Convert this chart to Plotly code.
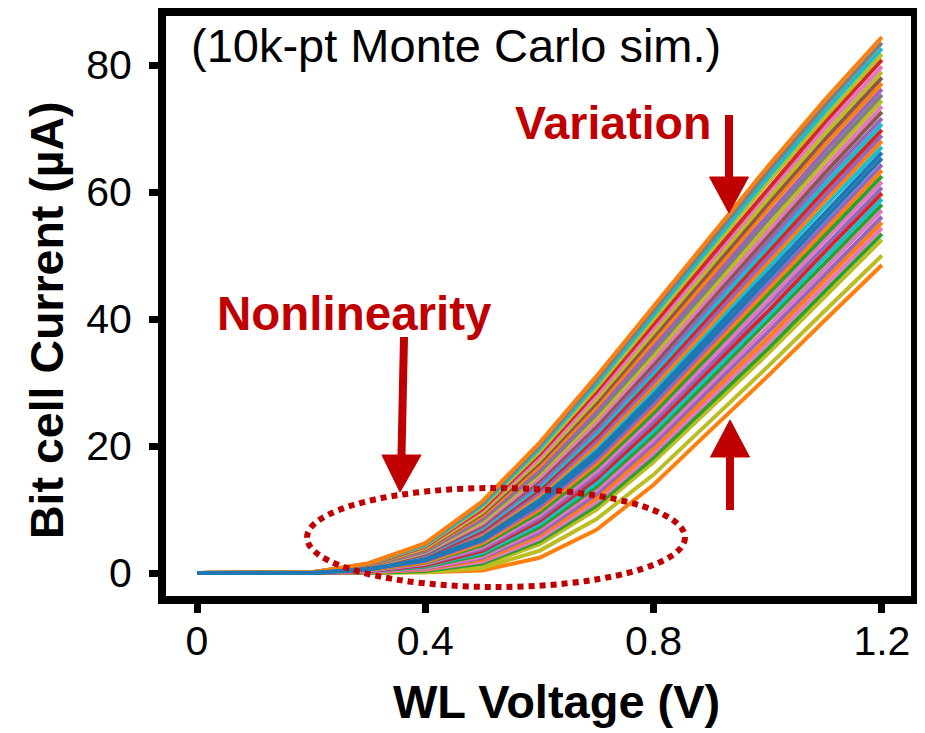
import plotly.graph_objects as go

# ---------------- data ----------------
wl_voltage = [0.0, 0.1, 0.2, 0.3, 0.4, 0.5, 0.6, 0.7, 0.8, 0.9, 1.0, 1.1, 1.2]

# Bit cell current (uA) of the displayed Monte Carlo samples, one row per sample
sample_currents = [
    [0, 0, 0.0, 0.0, 0.1, 0.4, 2.4, 6.8, 13.9, 22.5, 31.0, 39.8, 48.5],
    [0, 0, 0.0, 0.0, 0.1, 0.8, 3.5, 8.5, 15.5, 24.0, 32.5, 41.3, 50.0],
    [0, 0, 0.0, 0.0, 0.2, 1.2, 4.5, 10.0, 17.5, 26.0, 34.5, 43.5, 52.5],
    [0, 0, 0.0, 0.0, 0.3, 1.5, 5.0, 10.6, 18.2, 26.8, 35.3, 44.4, 53.4],
    [0, 0, 0.0, 0.1, 0.5, 1.8, 5.4, 11.2, 18.9, 27.5, 36.2, 45.3, 54.3],
    [0, 0, 0.0, 0.1, 0.6, 2.1, 5.9, 11.8, 19.6, 28.3, 37.0, 46.2, 55.2],
    [0, 0, 0.0, 0.2, 0.7, 2.4, 6.3, 12.4, 20.3, 29.1, 37.9, 47.0, 56.1],
    [0, 0, 0.0, 0.2, 0.8, 2.6, 6.8, 13.0, 21.0, 29.9, 38.7, 47.9, 57.1],
    [0, 0, 0.0, 0.3, 1.0, 2.9, 7.2, 13.6, 21.7, 30.6, 39.6, 48.8, 58.0],
    [0, 0, 0.0, 0.3, 1.1, 3.2, 7.7, 14.2, 22.4, 31.4, 40.4, 49.7, 58.9],
    [0, 0, 0.0, 0.3, 1.2, 3.5, 8.2, 14.8, 23.1, 32.2, 41.2, 50.6, 59.8],
    [0, 0, 0.0, 0.4, 1.4, 3.8, 8.6, 15.4, 23.8, 32.9, 42.1, 51.5, 60.7],
    [0, 0, 0.0, 0.4, 1.5, 4.1, 9.1, 16.0, 24.5, 33.7, 42.9, 52.4, 61.6],
    [0, 0, 0.0, 0.5, 1.6, 4.4, 9.5, 16.6, 25.2, 34.5, 43.8, 53.2, 62.5],
    [0, 0, 0.0, 0.5, 1.7, 4.7, 10.0, 17.2, 25.9, 35.3, 44.6, 54.1, 63.4],
    [0, 0, 0.0, 0.6, 1.9, 5.0, 10.4, 17.8, 26.6, 36.0, 45.5, 55.0, 64.3],
    [0, 0, 0.0, 0.7, 2.3, 5.8, 11.8, 19.6, 28.7, 38.3, 48.0, 57.7, 67.1],
    [0, 0, 0.0, 0.7, 2.4, 6.1, 12.3, 20.2, 29.4, 39.1, 48.8, 58.6, 68.0],
    [0, 0, 0.0, 0.8, 2.5, 6.4, 12.7, 20.8, 30.1, 39.9, 49.7, 59.4, 68.9],
    [0, 0, 0.0, 0.8, 2.6, 6.7, 13.2, 21.4, 30.8, 40.7, 50.5, 60.3, 69.8],
    [0, 0, 0.0, 0.9, 2.8, 7.0, 13.6, 22.0, 31.5, 41.4, 51.4, 61.2, 70.7],
    [0, 0, 0.0, 0.9, 2.9, 7.3, 14.1, 22.6, 32.2, 42.2, 52.2, 62.1, 71.6],
    [0, 0, 0.0, 0.9, 3.0, 7.5, 14.6, 23.2, 32.9, 43.0, 53.0, 63.0, 72.6],
    [0, 0, 0.1, 1.0, 3.2, 7.8, 15.0, 23.8, 33.6, 43.7, 53.9, 63.9, 73.5],
    [0, 0, 0.1, 1.0, 3.3, 8.1, 15.5, 24.4, 34.3, 44.5, 54.7, 64.8, 74.4],
    [0, 0, 0.1, 1.1, 3.4, 8.4, 15.9, 25.0, 35.0, 45.3, 55.6, 65.6, 75.3],
    [0, 0, 0.1, 1.1, 3.5, 8.7, 16.4, 25.6, 35.7, 46.1, 56.4, 66.5, 76.2],
    [0, 0, 0.1, 1.2, 3.7, 9.0, 16.8, 26.2, 36.4, 46.8, 57.3, 67.4, 77.1],
    [0, 0, 0.1, 1.2, 3.8, 9.3, 17.3, 26.8, 37.1, 47.6, 58.1, 68.3, 78.0],
    [0, 0, 0.1, 1.2, 3.9, 9.6, 17.8, 27.4, 37.8, 48.4, 58.9, 69.2, 78.9],
    [0, 0, 0.1, 1.3, 4.1, 9.9, 18.2, 28.0, 38.5, 49.1, 59.8, 70.1, 79.8],
    [0, 0, 0.1, 1.3, 4.2, 10.1, 18.7, 28.6, 39.2, 49.9, 60.6, 71.0, 80.8],
    [0, 0, 0.1, 1.4, 4.3, 10.4, 19.1, 29.2, 39.9, 50.7, 61.5, 71.8, 81.7],
    [0, 0, 0.1, 1.4, 4.4, 10.7, 19.6, 29.8, 40.6, 51.5, 62.3, 72.7, 82.6],
    [0, 0, 0.1, 1.5, 4.6, 11.0, 20.0, 30.4, 41.3, 52.2, 63.2, 73.6, 83.5],
    [0, 0, 0.1, 1.5, 4.7, 11.3, 20.5, 31.0, 42.0, 53.0, 64.0, 74.5, 84.4],
    [0, 0, 0.0, 0.6, 2.0, 5.2, 10.9, 18.4, 27.3, 36.8, 46.3, 55.9, 65.3],
    [0, 0, 0.0, 0.6, 2.1, 5.5, 11.4, 19.0, 28.0, 37.6, 47.1, 56.8, 66.2],
]

sample_colors = [
    "orange", "olive", "olive", "green", "pink", "orange", "purple", "pink",
    "green", "cyan", "red", "purple", "pink", "green", "orange", "purple",
    "cyan", "orange", "purple", "red", "cyan", "purple", "brown", "pink",
    "olive", "gray", "purple", "orange", "brown", "olive", "pink", "red",
    "olive", "cyan", "gray", "orange", "blue", "blue",
]

x_tick_values = [0, 0.4, 0.8, 1.2]
x_tick_labels = ["0", "0.4", "0.8", "1.2"]
y_tick_values = [0, 20, 40, 60, 80]
y_tick_labels = ["0", "20", "40", "60", "80"]

x_title = "WL Voltage (V)"
y_title = "Bit cell Current (µA)"
note_text = "(10k-pt Monte Carlo sim.)"
label_variation = "Variation"
label_nonlinearity = "Nonlinearity"

# ---------------- styling ----------------
tab10 = {
    "blue": "#1f77b4", "orange": "#ff7f0e", "green": "#2ca02c", "red": "#d62728",
    "purple": "#9467bd", "brown": "#8c564b", "pink": "#e377c2", "gray": "#7f7f7f",
    "olive": "#bcbd22", "cyan": "#17becf",
}
DARK_RED = "#C00000"
FONT = "Liberation Sans, Arial, Helvetica, sans-serif"

# screen geometry (the page body has an 8 px margin)
OFF = 8
SW, SH = 925, 733
PL, PR, PT, PB = 162, 915, 12, 600   # plot-area edges on screen


def fx(px):
    return (px - PL) / (PR - PL)


def fy(py):
    return (PB - py) / (PB - PT)


fig = go.Figure()
for row, cname in zip(sample_currents, sample_colors):
    fig.add_trace(go.Scatter(
        x=wl_voltage, y=row, mode="lines",
        line=dict(color=tab10[cname], width=4),
        showlegend=False, hoverinfo="skip",
    ))

# x: 0 at screen px 197, 0.4 per 228.3 px ; y: 0 at px 573, 80 at px 65
xs = 0.4 / 228.3
ys = 80 / (573 - 65)
x_range = [(PL - 197) * xs, (PR - 197) * xs]
y_range = [(573 - PB) * ys, (573 - PT) * ys]

shapes = []
shapes.append(dict(type="rect", xref="paper", yref="paper", x0=0, x1=1, y0=0, y1=1,
                   line=dict(color="black", width=8), layer="above"))
shapes.append(dict(type="circle", xref="paper", yref="paper",
                   x0=fx(307), x1=fx(685), y0=fy(587), y1=fy(488),
                   line=dict(color=DARK_RED, width=6, dash="6px,5px"), layer="above"))


def arrow(x_tail, y_tail, x_base, y_base, x_tip, y_tip, half_w):
    shapes.append(dict(type="line", xref="paper", yref="paper",
                       x0=fx(x_tail), y0=fy(y_tail), x1=fx(x_base), y1=fy(y_base),
                       line=dict(color=DARK_RED, width=8), layer="above"))
    path = "M {a} {b} L {c} {d} L {e} {f} Z".format(
        a=fx(x_base - half_w), b=fy(y_base), c=fx(x_base + half_w), d=fy(y_base),
        e=fx(x_tip), f=fy(y_tip))
    shapes.append(dict(type="path", xref="paper", yref="paper", path=path,
                       fillcolor=DARK_RED, line=dict(color=DARK_RED, width=1), layer="above"))


arrow(404, 337, 401.5, 455, 400, 492, 19.5)   # nonlinearity
arrow(729, 115, 729, 177, 729, 213, 19.5)     # variation (down)
arrow(730, 510, 730, 457, 730, 420, 19.5)     # variation (up)

annotations = [
    dict(text=note_text, xref="paper", yref="paper", x=fx(189), y=fy(46),
         xanchor="left", yanchor="middle", showarrow=False,
         font=dict(family=FONT, size=47, color="black")),
    dict(text="<b>" + label_variation + "</b>", xref="paper", yref="paper", x=fx(513), y=fy(122.5),
         xanchor="left", yanchor="middle", showarrow=False,
         font=dict(family=FONT, size=46.5, color=DARK_RED)),
    dict(text="<b>" + label_nonlinearity + "</b>", xref="paper", yref="paper", x=fx(215), y=fy(313.5),
         xanchor="left", yanchor="middle", showarrow=False,
         font=dict(family=FONT, size=47.5, color=DARK_RED)),
    dict(text="<b>" + x_title + "</b>", xref="paper", yref="paper", x=fx(556), y=fy(701),
         xanchor="center", yanchor="middle", showarrow=False,
         font=dict(family=FONT, size=47, color="black")),
    dict(text="<b>" + y_title + "</b>", xref="paper", yref="paper", x=fx(47), y=fy(320),
         xanchor="center", yanchor="middle", showarrow=False, textangle=-90,
         font=dict(family=FONT, size=46.5, color="black")),
]

fig.update_layout(
    width=SW - OFF, height=SH - OFF,
    margin=dict(l=PL - OFF, r=SW - PR, t=PT - OFF, b=SH - PB, pad=0),
    paper_bgcolor="white", plot_bgcolor="white",
    xaxis=dict(range=x_range, tickmode="array", tickvals=x_tick_values, ticktext=x_tick_labels,
               ticks="outside", ticklen=12, tickwidth=7, tickcolor="black",
               ticklabelstandoff=-7,
               showgrid=False, zeroline=False, showline=False,
               tickfont=dict(family=FONT, size=41, color="black")),
    yaxis=dict(range=y_range, tickmode="array", tickvals=y_tick_values, ticktext=y_tick_labels,
               ticks="outside", ticklen=12, tickwidth=7, tickcolor="black",
               ticklabelstandoff=9,
               showgrid=False, zeroline=False, showline=False,
               tickfont=dict(family=FONT, size=41, color="black")),
    shapes=shapes, annotations=annotations,
)

fig.write_html("out.html")
